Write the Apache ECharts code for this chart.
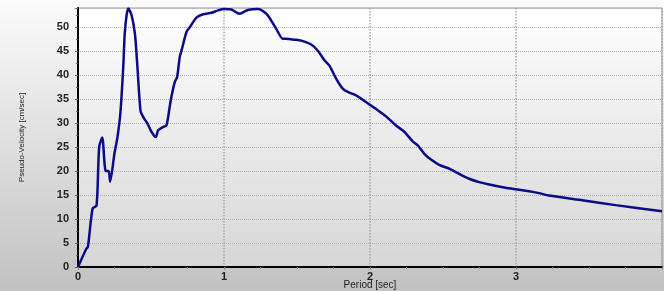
<!DOCTYPE html>
<html>
<head>
<meta charset="utf-8">
<script src="https://cdn.jsdelivr.net/npm/echarts@6/dist/echarts.min.js"></script>
<style>
  html, body { margin: 0; padding: 0; }
  #chart { width: 664px; height: 291px; }
</style>
</head>
<body>
<div id="chart"></div>
<script>
// period [sec] and pseudo-velocity [cm/sec]
const periods = [
  0, 0.057, 0.068, 0.1, 0.127, 0.145, 0.166, 0.19, 0.21, 0.22,
  0.25, 0.27, 0.29, 0.31, 0.32, 0.333, 0.344, 0.367, 0.39, 0.407,
  0.428, 0.446, 0.476, 0.503, 0.533, 0.549, 0.583, 0.606, 0.635, 0.663,
  0.679, 0.697, 0.709, 0.743, 0.766, 0.811, 0.857, 0.914, 0.959, 1.0,
  1.05, 1.107, 1.164, 1.232, 1.29, 1.323, 1.357, 1.403, 1.426, 1.483,
  1.529, 1.597, 1.643, 1.688, 1.722, 1.768, 1.813, 1.848, 1.905, 1.939,
  1.996, 2.053, 2.11, 2.178, 2.235, 2.292, 2.326, 2.372, 2.418, 2.474,
  2.543, 2.611, 2.679, 2.748, 2.816, 2.884, 2.953, 3.0, 3.09, 3.158,
  3.226, 3.454, 3.682, 4.0
]
const velocities = [
  0, 3.8, 4.2, 12.2, 12.8, 25, 27, 20, 20, 17.8,
  23.7, 27, 32, 41.7, 48.6, 52.5, 53.9, 52.5, 48.6, 41.7,
  32.6, 31.3, 29.9, 28.2, 27.1, 28.5, 29.2, 29.5, 34.7, 38.6,
  39.6, 43.8, 45.1, 49, 50, 52, 52.7, 53, 53.5, 53.8,
  53.7, 52.8, 53.6, 53.8, 52.8, 51.4, 49.7, 47.6, 47.6, 47.4,
  47.2, 46.4, 45.1, 43.1, 42, 39.3, 37.2, 36.5, 35.8, 35.1,
  33.9, 32.7, 31.4, 29.5, 28.2, 26.2, 25.4, 23.6, 22.4, 21.3,
  20.5, 19.4, 18.4, 17.7, 17.2, 16.8, 16.4, 16.2, 15.8, 15.4,
  14.9, 13.9, 12.9, 11.6
]

const chart = echarts.init(document.getElementById('chart'))
const labelFont = { color: '#222', fontSize: 11, fontWeight: 'bold', fontFamily: 'Liberation Sans, Arial, sans-serif' }

const option = {
  animation: false,
  backgroundColor: new echarts.graphic.LinearGradient(0, 0, 0, 1, [
    { offset: 0, color: '#fbfbfb' },
    { offset: 1, color: '#c2c2c2' }
  ]),
  grid: {
    left: 78, right: 2, top: 8, bottom: 24,
    outerBoundsMode: 'none',
    containLabel: false,
    show: true,
    borderColor: '#9a9a9a',
    borderWidth: 1,
    backgroundColor: new echarts.graphic.LinearGradient(0, 0, 0, 1, [
      { offset: 0, color: '#ffffff' },
      { offset: 1, color: '#d6d6d6' }
    ])
  },
  xAxis: {
    type: 'value',
    min: 0, max: 4, interval: 1,
    name: 'Period [sec]',
    nameLocation: 'middle',
    nameGap: 13,
    nameMoveOverlap: false,
    nameTextStyle: { color: '#222', fontSize: 10, fontFamily: 'Liberation Sans, Arial, sans-serif' },
    axisLine: { show: true, lineStyle: { color: '#000', width: 2 } },
    axisTick: { show: true, length: 3, lineStyle: { color: '#888' } },
    minorTick: { show: true, splitNumber: 4, length: 2, lineStyle: { color: '#888' } },
    axisLabel: Object.assign({ margin: 4, showMaxLabel: false }, labelFont),
    splitLine: { show: true, lineStyle: { color: '#a8a8a8', type: 'dotted', width: 1.5 } }
  },
  yAxis: {
    type: 'value',
    min: 0, max: 54, interval: 5,
    name: 'Pseudo-Velocity [cm/sec]',
    nameLocation: 'middle',
    nameGap: 52,
    nameTextStyle: { color: '#222', fontSize: 8, fontFamily: 'Liberation Sans, Arial, sans-serif' },
    axisLine: { show: true, lineStyle: { color: '#000', width: 2 } },
    axisTick: { show: true, length: 3, lineStyle: { color: '#666' } },
    minorTick: { show: true, splitNumber: 2, length: 2, lineStyle: { color: '#666' } },
    axisLabel: Object.assign({ margin: 9, showMaxLabel: false }, labelFont),
    splitLine: { show: true, lineStyle: { color: '#b0b0b0', type: 'dotted', width: 1 } }
  },
  series: [{
    type: 'line',
    data: periods.map((t, i) => [t, velocities[i]]),
    showSymbol: false,
    smooth: 0.25,
    lineStyle: { color: '#0b0b8a', width: 2.5 }
  }]
}
chart.setOption(option)
</script>
</body>
</html>
